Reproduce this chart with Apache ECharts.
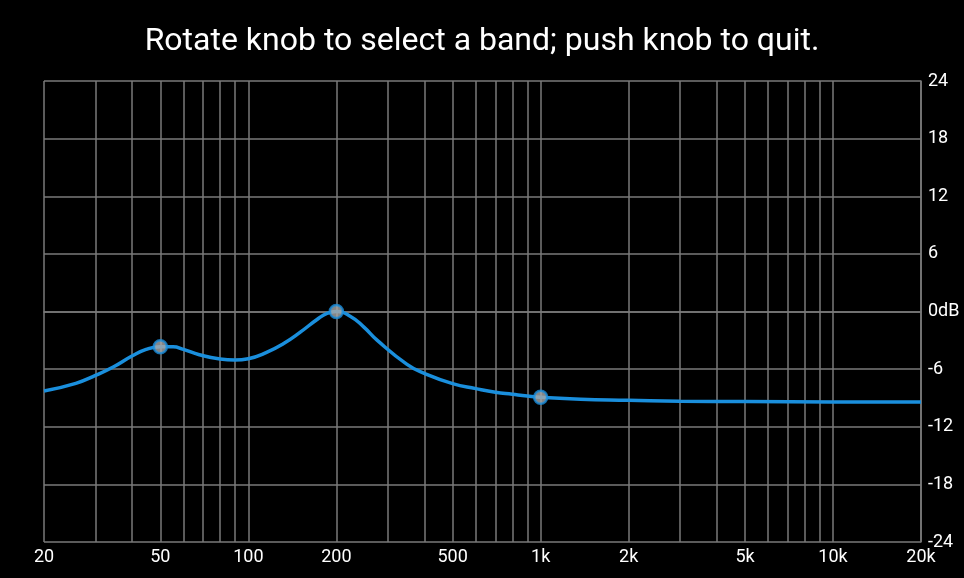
<!DOCTYPE html>
<html>
<head>
<meta charset="utf-8">
<style>
  html, body { margin: 0; padding: 0; background: #000; }
  #chart { width: 964px; height: 578px; }
</style>
<script src="https://cdn.jsdelivr.net/npm/echarts@6/dist/echarts.min.js"></script>
</head>
<body>
<div id="chart"></div>
<script>
const titleText = 'Rotate knob to select a band; push knob to quit.';
const freqs = [20, 25.7, 30, 34.5, 40, 44.7, 50, 55.3, 60, 68, 80, 90, 100, 115, 131.7, 150.6, 171.8, 185.8, 200, 223, 248, 275.6, 349, 400, 500, 600, 700, 800, 900, 1000, 1370, 2000, 3000, 5000, 10000, 20000];
const gains = [-8.28, -7.48, -6.65, -5.78, -4.64, -3.95, -3.67, -3.67, -3.95, -4.5, -4.95, -5.06, -4.92, -4.29, -3.36, -2.15, -0.83, -0.2, 0, -0.49, -1.6, -2.98, -5.5, -6.44, -7.51, -8.03, -8.41, -8.62, -8.8, -8.93, -9.14, -9.24, -9.35, -9.38, -9.42, -9.42];
const bandFreqs = [50, 200, 1000];
const bandGains = [-3.67, 0, -8.93];
const gridFreqs = [20, 30, 40, 50, 60, 70, 80, 90, 100, 200, 300, 400, 500, 600, 700, 800, 900, 1000, 2000, 3000, 4000, 5000, 6000, 7000, 8000, 9000, 10000, 20000];
const labelFreqs = [20, 50, 100, 200, 500, 1000, 2000, 5000, 10000, 20000];

const chart = echarts.init(document.getElementById('chart'));
const gridColor = '#7a7a7a';
const lineBlue = '#1a8fdd';
chart.setOption({
  backgroundColor: '#000',
  animation: false,
  title: {
    text: titleText,
    left: 'center',
    top: 21,
    textStyle: { color: '#fff', fontSize: 32, fontWeight: 'normal', fontFamily: 'Roboto' }
  },
  grid: { left: 44, right: 43, top: 81, bottom: 36 },
  xAxis: {
    type: 'log',
    logBase: 10,
    min: 20,
    max: 20000,
    axisLine: { show: true, lineStyle: { color: gridColor, width: 1.5 } },
    axisTick: { show: false, customValues: gridFreqs },
    axisLabel: {
      customValues: labelFreqs,
      color: '#fff',
      fontSize: 18,
      fontFamily: 'Roboto',
      margin: 6,
      formatter: v => v >= 1000 ? (v / 1000) + 'k' : String(v)
    },
    splitLine: { show: true, lineStyle: { color: gridColor, width: 1.5 } }
  },
  yAxis: {
    type: 'value',
    position: 'right',
    min: -24,
    max: 24,
    interval: 6,
    axisLine: { show: true, lineStyle: { color: gridColor, width: 1.5 } },
    axisTick: { show: false },
    axisLabel: {
      color: '#fff',
      fontSize: 18,
      fontFamily: 'Roboto',
      margin: 7,
      formatter: v => v === 0 ? '0dB' : String(v)
    },
    splitLine: { show: true, lineStyle: { color: gridColor, width: 1.5 } }
  },
  series: [
    {
      type: 'line',
      data: freqs.map((f, i) => [f, gains[i]]),
      smooth: 0.5,
      showSymbol: false,
      lineStyle: { color: lineBlue, width: 3.5 },
      z: 3
    },
    {
      type: 'scatter',
      data: bandFreqs.map((f, i) => [f, bandGains[i]]),
      symbol: 'circle',
      symbolSize: 13,
      itemStyle: { color: '#a8a8a8', borderColor: lineBlue, borderWidth: 2.5 },
      z: 4
    }
  ]
});
</script>
</body>
</html>
